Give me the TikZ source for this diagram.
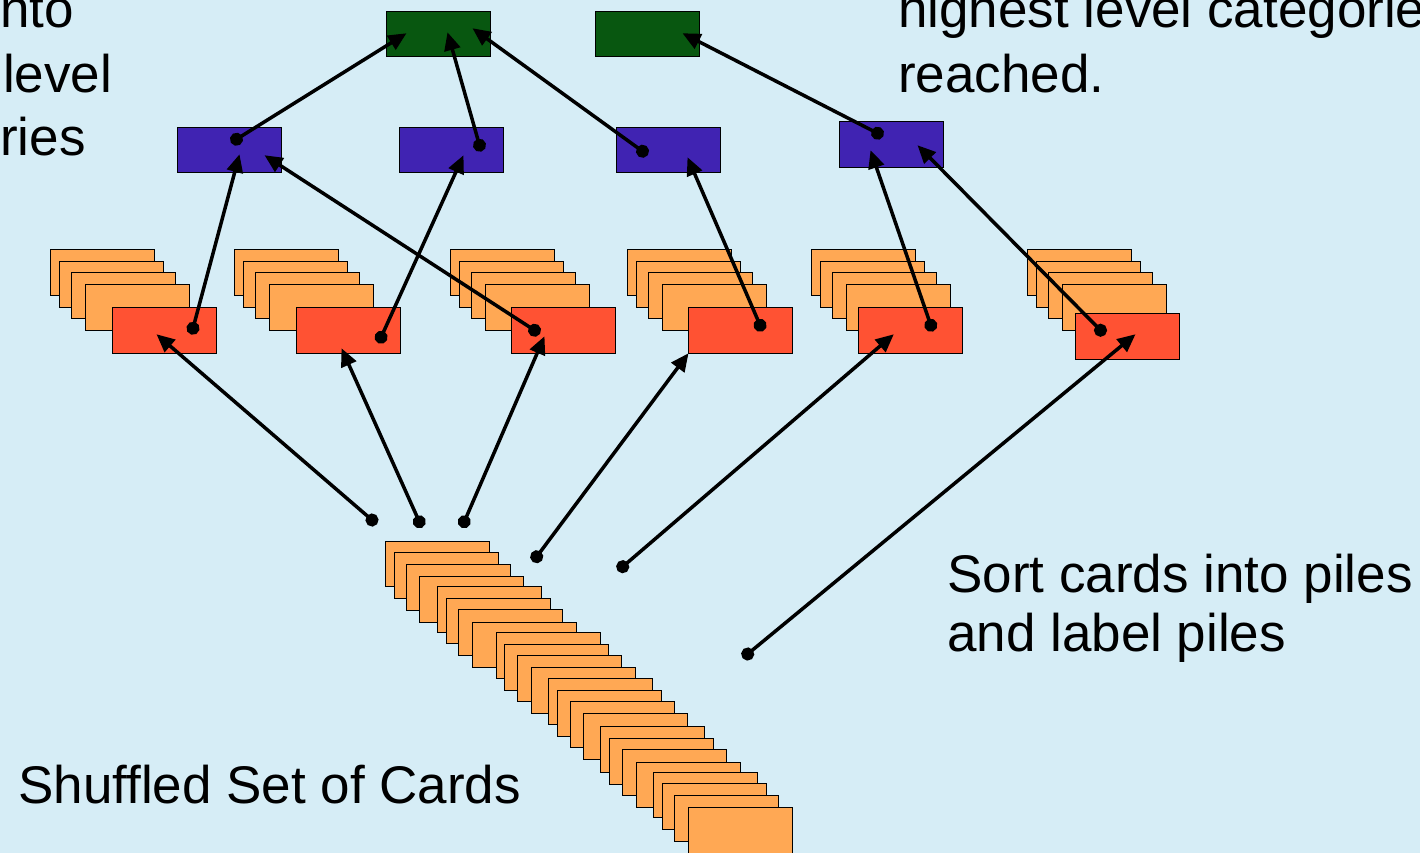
\documentclass[tikz,border=0pt]{standalone}
\usepackage{fontspec}
\setmainfont{Liberation Sans}
\usetikzlibrary{arrows.meta}
\usetikzlibrary{calc}

\definecolor{sky}{RGB}{214,237,246}
\definecolor{topgreen}{RGB}{8,87,16}
\definecolor{midblue}{RGB}{64,35,178}
\definecolor{pilered}{RGB}{255,82,51}
\definecolor{cardorange}{RGB}{255,168,84}

\begin{document}
\begin{tikzpicture}[x=1pt,y=-1pt,
  card/.style={draw,line width=1pt,anchor=north west,inner sep=0pt,
    minimum width=104pt,minimum height=45.5pt,fill=cardorange},
  link/.style={line width=3.5pt,shorten <=-6.5pt,
    {Circle[length=13pt]}-{Triangle[length=18pt,width=16pt]}},
  say/.style={anchor=base west,inner sep=0pt,font=\fontsize{53}{64}\selectfont}]
\useasboundingbox (0,0) rectangle (1420,853);
\fill[sky] (0,0) rectangle (1420,853);

% the shuffled deck
\foreach \x/\y [count=\i] in {384.7/540.7, 393.7/552.3, 406/564, 419.3/576,
    437.3/586.3, 445.7/597.7, 458.3/609.3, 472/621.7, 496.3/632.3, 504.3/644.3,
    517.3/655.3, 530.7/667.3, 548.3/678, 557/690, 569.7/701.3, 583/713,
    600.3/726.3, 609.3/738, 621.7/749.3, 635.7/761.7, 653/771.7, 662/783.3,
    674.3/795, 687.7/807}
  \node[card] (deck-\i) at (\x,\y) {};

% the piles
\foreach \px in {50,234,450,627,811,1027}
  \foreach \dx/\dy in {0/0,9/12,21/23,35/35}
    \node[card] at (\px+\dx,249+\dy) {};
\node[card,fill=pilered] (redA) at (111.5,307) {};
\node[card,fill=pilered] (redB) at (295.6,307) {};
\node[card,fill=pilered] (redC) at (511,307) {};
\node[card,fill=pilered] (redD) at (687.6,307) {};
\node[card,fill=pilered] (redE) at (858.3,307) {};
\node[card,fill=pilered] (redF) at (1075,313) {};

% categories
\node[card,fill=midblue] (blueA) at (177,127) {};
\node[card,fill=midblue] (blueB) at (399,127) {};
\node[card,fill=midblue] (blueC) at (616,127) {};
\node[card,fill=midblue] (blueD) at (839,121.5) {};
\node[card,fill=topgreen] (greenA) at (386,11) {};
\node[card,fill=topgreen] (greenB) at (595,11) {};

% cards leaving the deck
\coordinate (dealA) at (372,520);
\coordinate (dealB) at (419.3,521.7);
\coordinate (dealC) at (464.3,521.7);
\coordinate (dealD) at (536.7,556.7);
\coordinate (dealE) at (622.7,566.7);
\coordinate (dealF) at (747.7,654);

\draw[link] (dealA) -- ($(redA)+(-7.5,4)$);
\draw[link] (dealB) -- ($(redB)+(-6.6,18)$);
\draw[link] (dealC) -- ($(redC)+(-19,6)$);
\draw[link] (dealD) -- ($(redD)+(-51.6,23)$);
\draw[link] (dealE) -- ($(redE)+(-17,4)$);
\draw[link] (dealF) -- ($(redF)+(8,-2)$);

\draw[link] ($(redA)+(29,-2)$) -- ($(blueA)+(10,4)$);
\draw[link] ($(redC)+(-29,0)$) -- ($(blueA)+(35,5)$);
\draw[link] ($(redB)+(33,7)$) -- ($(blueB)+(12,5)$);
\draw[link] ($(redD)+(20,-5)$) -- ($(blueC)+(19,7)$);
\draw[link] ($(redE)+(20,-5)$) -- ($(blueD)+(-21,5.5)$);
\draw[link] ($(redF)+(-27,-6)$) -- ($(blueD)+(26,0.5)$);

\draw[link] ($(blueA)+(7,-11)$) -- ($(greenA)+(-32,-1)$);
\draw[link] ($(blueB)+(28,-5)$) -- ($(greenA)+(9,-2)$);
\draw[link] ($(blueC)+(-26,1)$) -- ($(greenA)+(34,-6)$);
\draw[link] ($(blueD)+(-14,-11.5)$) -- ($(greenB)+(35,-1)$);

% texts
\node[say] (leftA) at (-11.8,28) {into};
\node[say] (leftB) at (-159,93) {higher level};
\node[say] (leftC) at (-159,156) {categories};
\node[say] (rightA) at (898,28) {highest level categories};
\node[say] (rightB) at (898,93) {reached.};
\node[say] (sortA) at (947,592) {Sort cards into piles};
\node[say] (sortB) at (947,651) {and label piles};
\node[say] (deckname) at (18,803) {Shuffled Set of Cards};
\end{tikzpicture}
\end{document}
